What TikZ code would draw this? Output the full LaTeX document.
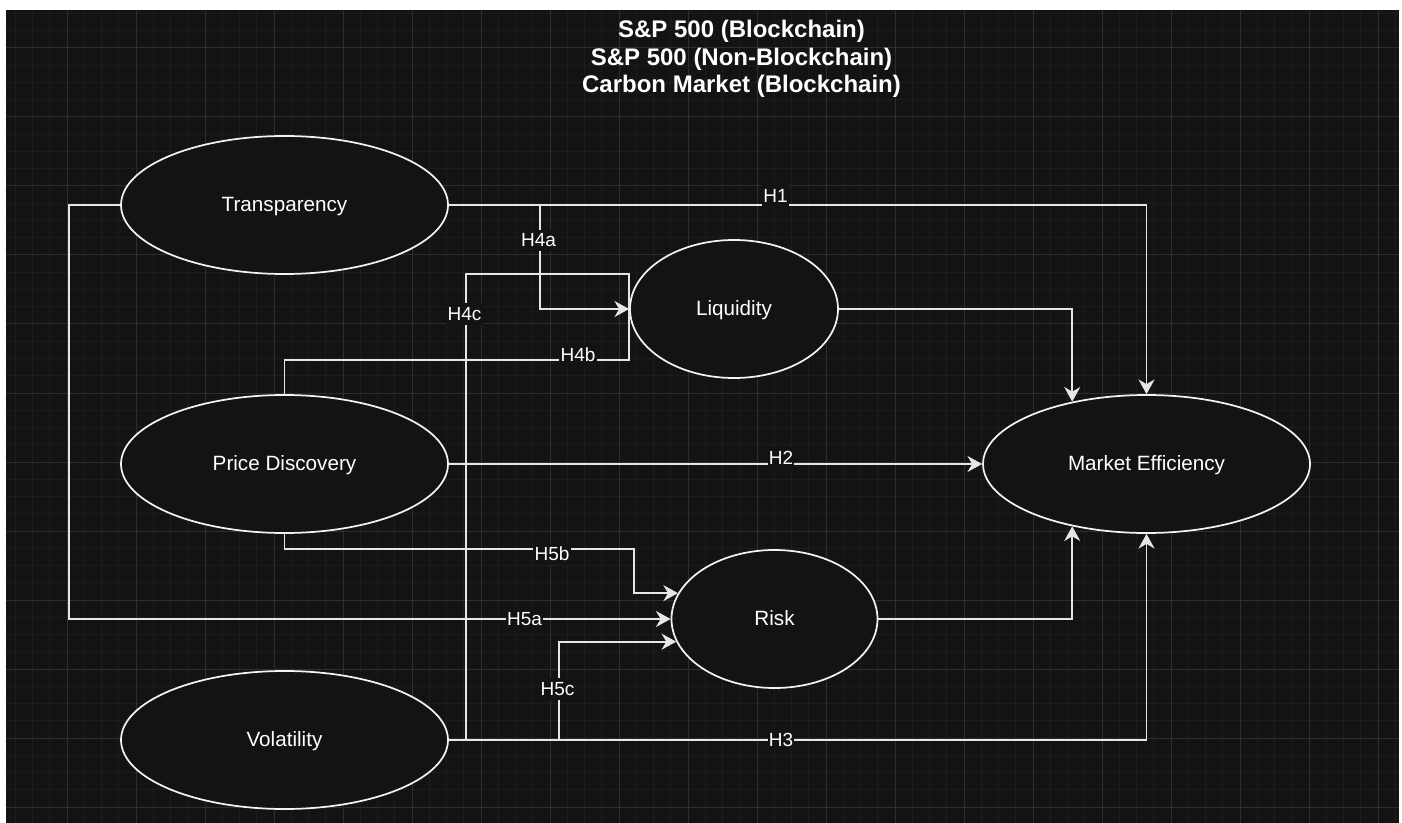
\documentclass[tikz,border=0pt]{standalone}
\usepackage{fontspec}
\setmainfont{Liberation Sans}
\usetikzlibrary{shapes.geometric,arrows.meta}
\definecolor{bg}{HTML}{131313}
\definecolor{gridminor}{HTML}{1C1C1C}
\definecolor{gridmajor}{HTML}{2E2E2E}
\definecolor{edgecol}{HTML}{E6E6E6}
\definecolor{ellcol}{HTML}{F2F2F2}
\begin{document}
\begin{tikzpicture}[x=0.75pt,y=-0.75pt,
  ell/.style={ellipse, draw=ellcol, fill=bg, line width=1.3pt, inner sep=0pt,
    minimum width=245.25pt, minimum height=103.5pt, text=white,
    font=\fontsize{15.5}{18}\selectfont, text height=1.15em, text depth=0.2em},
  smallell/.style={ell, minimum width=156pt},
  edgeline/.style={draw=edgecol, line width=1.3pt},
  arr/.style={edgeline, -{Stealth[length=11pt,width=12pt,inset=3.5pt]}},
  lab/.style={fill=bg, text=white, font=\fontsize{14.25}{17}\selectfont, inner xsep=1pt, inner ysep=3pt},
  ttl/.style={text=white, font=\bfseries\fontsize{18}{21}\selectfont, anchor=base, inner sep=0pt}]
\useasboundingbox (0,0) rectangle (1402,823);
\fill[white] (0,0) rectangle (1402,823);
\fill[bg] (6,10) rectangle (1399,823);
\begin{scope}
  \clip (6,10) rectangle (1399,823);
  \foreach \i in {0,...,80} \draw[gridminor, line width=0.75pt] ({15.25+17.25*\i},10) -- ({15.25+17.25*\i},823);
  \foreach \i in {0,...,47} \draw[gridminor, line width=0.75pt] (6,{13.5+17.25*\i}) -- (1399,{13.5+17.25*\i});
  \foreach \i in {0,...,20} \draw[gridmajor, line width=0.75pt] ({-2+69*\i},10) -- ({-2+69*\i},823);
  \foreach \i in {0,...,12} \draw[gridmajor, line width=0.75pt] (6,{-21+69*\i}) -- (1399,{-21+69*\i});
\end{scope}

% title
\node[ttl] (t1) at (741.5,38) {S\&P 500 (Blockchain)};
\node[ttl] (t2) at (741.5,66) {S\&P 500 (Non-Blockchain)};
\node[ttl] (t3) at (741.5,93) {Carbon Market (Blockchain)};

% nodes
\node[ell] (T) at (284.5,205) {Transparency};
\node[ell] (PD) at (284.5,464) {Price Discovery};
\node[ell] (V) at (284.5,740) {Volatility};
\node[smallell] (L) at (734,309) {Liquidity};
\node[smallell, minimum width=154.5pt] (R) at (774.5,619) {Risk};
\node[ell] (ME) at (1146.5,464) {Market Efficiency};

% helper coordinates
\coordinate (h4a) at (540,205);
\coordinate (tl) at (69,205);
\coordinate (h5b) at (634,549);
\coordinate (h5c) at (559,740);
\coordinate (h4b1) at (629,360);
\coordinate (h4b2) at (629,274);
\coordinate (h4c1) at (466,740);
\coordinate (h4c2) at (483,740);

% connectors
\draw[edgeline] (PD.north) |- (h4b1) -- (h4b2) -| (h4c1) -- (h4c2);
\draw[arr] (T.east) -| (ME.north);
\draw[arr] (h4a) |- (L.west);
\draw[arr] (L.east) -| (ME.140);
\draw[arr] (PD.east) -- (ME.west);
\draw[arr] (R.east) -| (ME.220);
\draw[arr] (V.east) -| (ME.south);
\draw[arr] (T.west) -- (tl) |- (R.west);
\draw[arr] (PD.south) |- (h5b) |- (R.165);
\draw[arr] (h5c) |- (R.193);

% labels
\node[lab] (lH1) at (775.5,196) {H1};
\node[lab] (lH2) at (781,458) {H2};
\node[lab] (lH3) at (781,740) {H3};
\node[lab] (lH4a) at (538.5,240.5) {H4a};
\node[lab] (lH4b) at (578,354.5) {H4b};
\node[lab] (lH4c) at (464.5,314) {H4c};
\node[lab] (lH5a) at (524.5,619.5) {H5a};
\node[lab] (lH5b) at (552,554) {H5b};
\node[lab] (lH5c) at (557.5,689) {H5c};
\end{tikzpicture}
\end{document}
